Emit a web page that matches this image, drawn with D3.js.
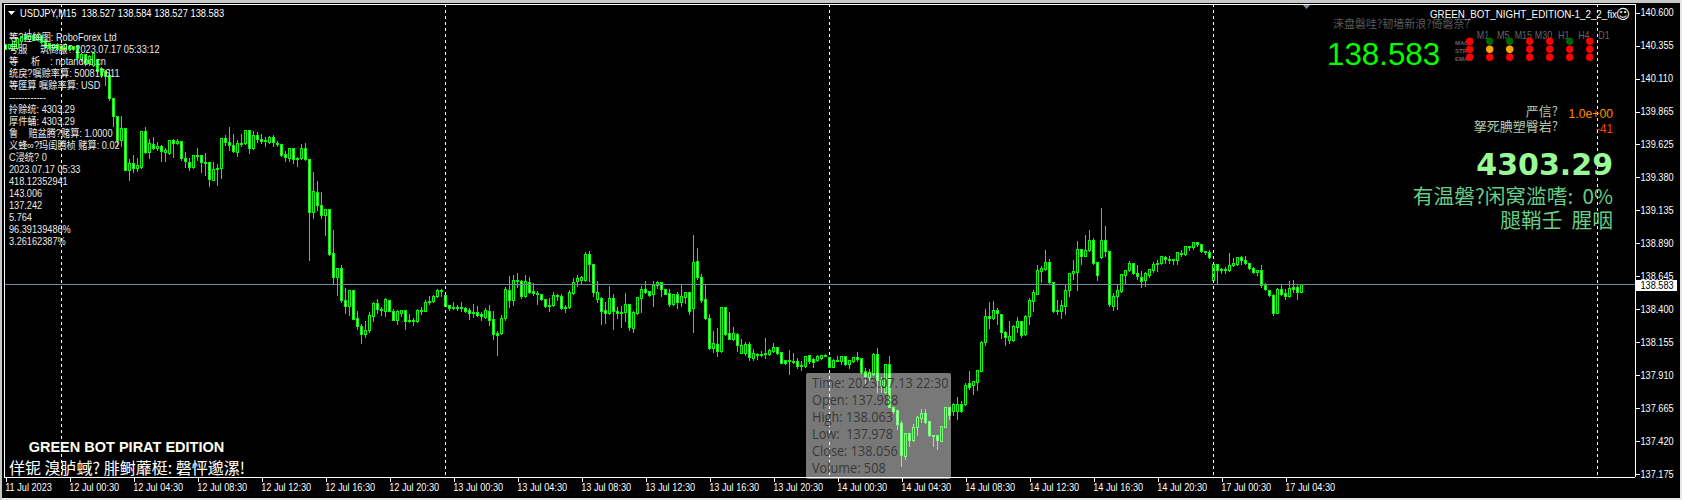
<!DOCTYPE html>
<html><head><meta charset="utf-8">
<script src="https://cdn.jsdelivr.net/npm/d3@7"></script>
<style>html,body{margin:0;padding:0;background:#000;overflow:hidden}svg{display:block}</style>
</head><body><div id="chart"></div>
<script>
// OHLC of USDJPY M15, bar by bar
const opens=[140.364,140.334,140.327,140.334,140.384,140.433,140.401,140.433,140.401,140.433,140.396,140.371,140.334,140.364,140.346,140.322,140.351,140.346,140.346,140.248,140.285,140.223,140.210,140.248,140.186,140.161,140.136,
139.963,139.832,139.649,139.740,139.431,139.480,139.441,139.451,139.720,139.559,139.624,139.589,139.609,139.559,139.554,139.653,139.626,139.646,139.517,139.490,139.448,139.542,139.540,139.490,139.488,139.356,139.441,139.441,139.666,139.634,139.614,139.559,139.626,139.629,139.728,139.592,139.688,139.658,139.653,139.639,139.673,139.629,139.621,139.550,139.520,139.592,139.520,139.517,139.592,
139.510,139.114,139.265,139.168,139.092,139.139,138.812,138.631,138.701,138.461,138.423,138.540,138.329,138.270,138.211,138.238,138.349,138.441,138.396,138.386,138.463,138.386,138.312,138.371,138.389,138.317,138.317,138.305,138.386,138.386,138.456,138.453,138.490,138.540,138.500,138.426,138.411,138.411,138.414,138.406,138.389,138.374,138.374,138.357,138.339,138.381,138.322,138.218,138.216,138.327,138.537,138.461,138.612,138.602,138.490,138.597,138.530,138.515,138.508,138.470,138.426,138.426,138.500,138.493,138.411,138.409,138.513,138.602,138.609,138.609,138.805,138.730,138.475,
138.478,138.389,138.364,138.478,138.381,138.376,138.376,138.433,138.260,138.369,138.480,138.545,138.530,138.505,138.572,138.597,138.545,138.515,138.438,138.510,138.451,138.488,138.525,138.401,138.753,138.634,138.470,138.329,138.109,138.141,138.089,138.409,138.218,138.176,138.211,138.074,138.074,138.136,138.035,138.065,138.065,138.070,138.065,138.089,138.114,138.077,138.018,138.020,138.013,138.010,137.983,137.975,138.055,138.027,138.020,138.035,138.057,138.042,137.970,138.015,138.013,138.047,137.993,138.013,138.040,138.032,
137.934,137.892,137.916,138.065,137.872,137.778,137.988,137.674,137.649,137.550,137.307,137.476,137.426,137.520,137.592,137.624,137.567,137.466,137.461,137.421,137.525,137.669,137.642,137.644,137.691,137.689,137.847,137.832,137.859,
137.941,138.153,138.346,138.327,138.389,138.359,138.225,138.171,138.168,138.267,138.307,138.213,138.349,138.460,138.512,138.676,138.695,138.745,138.596,138.391,138.386,138.423,138.535,138.661,138.668,138.841,138.794,138.832,138.908,138.745,138.780,138.908,138.827,138.423,138.497,138.532,138.651,138.683,138.738,138.663,138.636,138.609,138.653,138.688,138.738,138.735,138.782,138.767,138.765,138.757,138.812,138.802,138.864,138.854,138.893,138.879,138.827,138.822,138.616,138.728,138.695,138.695,138.683,138.720,138.728,138.782,138.760,138.740,138.700,138.668,138.685,138.574,138.537,138.500,138.371,138.544,138.515,138.490,138.559,138.559,138.527];
const highs=[140.371,140.371,140.371,140.421,140.433,140.440,140.483,140.450,140.440,140.440,140.405,140.380,140.371,140.376,140.360,140.375,140.365,140.355,140.355,140.300,140.295,140.285,140.310,140.260,140.200,140.175,140.186,
139.970,139.832,139.839,139.740,139.517,139.550,139.525,139.720,139.752,139.666,139.683,139.646,139.624,139.599,139.653,139.666,139.666,139.646,139.572,139.525,139.542,139.599,139.542,139.559,139.493,139.493,139.480,139.666,139.698,139.752,139.703,139.658,139.703,139.728,139.733,139.728,139.720,139.703,139.678,139.691,139.698,139.653,139.624,139.579,139.597,139.597,139.535,139.629,139.639,
139.515,139.423,139.356,139.275,139.150,139.150,138.993,138.705,138.733,138.557,138.540,138.540,138.391,138.292,138.317,138.379,138.453,138.480,138.416,138.485,138.470,138.404,138.399,138.391,138.391,138.366,138.337,138.404,138.416,138.470,138.503,138.510,138.550,138.550,138.503,138.431,138.458,138.436,138.458,138.421,138.411,138.443,138.428,138.379,138.409,138.436,138.391,138.243,138.362,138.569,138.651,138.659,138.673,138.619,138.659,138.644,138.597,138.535,138.515,138.473,138.485,138.532,138.515,138.515,138.436,138.545,138.634,138.659,138.651,138.824,138.832,138.733,138.614,
138.495,138.458,138.572,138.515,138.421,138.428,138.525,138.441,138.391,138.490,138.577,138.614,138.535,138.609,138.614,138.607,138.552,138.550,138.510,138.532,138.589,138.527,138.527,138.956,138.859,138.663,138.582,138.367,138.243,138.267,138.421,138.411,138.384,138.273,138.230,138.181,138.161,138.161,138.107,138.082,138.094,138.186,138.107,138.154,138.124,138.079,138.020,138.102,138.079,138.040,138.020,138.052,138.062,138.040,138.060,138.060,138.072,138.045,138.035,138.057,138.050,138.052,138.020,138.052,138.087,138.040,
137.968,137.958,138.075,138.114,137.897,137.995,138.057,137.679,137.654,137.575,137.481,137.481,137.550,137.612,137.661,137.661,137.575,137.471,137.463,137.538,137.674,137.674,137.711,137.753,137.723,137.859,137.946,137.867,137.946,
138.168,138.406,138.458,138.465,138.411,138.361,138.243,138.317,138.285,138.346,138.312,138.361,138.485,138.547,138.733,138.725,138.841,138.775,138.596,138.470,138.475,138.589,138.663,138.770,138.911,138.849,138.955,138.992,138.933,138.747,139.153,139.022,138.829,138.525,138.589,138.663,138.688,138.762,138.742,138.733,138.688,138.676,138.695,138.750,138.770,138.792,138.799,138.799,138.767,138.822,138.841,138.871,138.866,138.896,138.898,138.881,138.832,138.841,138.733,138.733,138.708,138.713,138.822,138.782,138.787,138.799,138.799,138.745,138.713,138.693,138.733,138.596,138.549,138.515,138.564,138.582,138.552,138.614,138.621,138.582,138.584];
const lows=[140.322,140.322,140.322,140.322,140.371,140.396,140.384,140.390,140.390,140.371,140.334,140.320,140.320,140.320,140.310,140.310,140.320,140.315,140.250,140.235,140.210,140.205,140.200,140.150,140.115,140.062,139.950,
139.757,139.604,139.604,139.426,139.356,139.411,139.418,139.443,139.554,139.517,139.584,139.574,139.493,139.493,139.550,139.522,139.624,139.505,139.448,139.426,139.443,139.505,139.411,139.394,139.307,139.352,139.317,139.366,139.616,139.574,139.562,139.530,139.604,139.624,139.554,139.587,139.636,139.629,139.609,139.629,139.604,139.609,139.535,139.498,139.493,139.480,139.455,139.510,139.500,
138.762,139.072,139.134,139.072,138.948,138.800,138.589,138.503,138.446,138.371,138.354,138.322,138.250,138.144,138.186,138.223,138.305,138.366,138.354,138.342,138.381,138.312,138.287,138.342,138.250,138.302,138.280,138.300,138.362,138.379,138.436,138.451,138.485,138.495,138.416,138.391,138.396,138.391,138.386,138.374,138.324,138.337,138.342,138.312,138.332,138.280,138.176,138.057,138.211,138.312,138.409,138.428,138.560,138.478,138.485,138.515,138.498,138.436,138.461,138.414,138.384,138.416,138.466,138.396,138.376,138.404,138.510,138.569,138.584,138.602,138.602,138.495,138.446,
138.287,138.292,138.362,138.250,138.329,138.267,138.310,138.238,138.223,138.362,138.376,138.515,138.495,138.421,138.550,138.495,138.505,138.421,138.428,138.406,138.421,138.441,138.362,138.223,138.619,138.451,138.324,138.104,138.079,138.045,138.082,138.206,138.173,138.168,138.089,138.069,138.057,138.020,138.020,138.025,138.045,138.035,138.057,138.082,138.065,137.995,137.990,137.916,137.995,137.958,137.946,137.970,137.995,137.970,138.013,138.025,138.050,137.965,137.968,138.010,137.990,137.985,137.958,138.005,138.008,137.926,
137.852,137.872,137.909,137.785,137.785,137.773,137.669,137.624,137.510,137.233,137.283,137.382,137.419,137.463,137.562,137.550,137.456,137.382,137.362,137.416,137.520,137.580,137.612,137.585,137.637,137.684,137.802,137.768,137.793,
137.936,138.131,138.255,138.322,138.287,138.181,138.131,138.148,138.161,138.228,138.190,138.208,138.287,138.381,138.505,138.599,138.688,138.579,138.376,138.361,138.332,138.361,138.490,138.621,138.540,138.733,138.792,138.829,138.728,138.614,138.777,138.794,138.423,138.391,138.398,138.520,138.582,138.681,138.658,138.619,138.564,138.569,138.634,138.668,138.681,138.733,138.742,138.738,138.733,138.733,138.792,138.799,138.836,138.841,138.866,138.822,138.807,138.777,138.609,138.584,138.663,138.663,138.678,138.715,138.723,138.733,138.733,138.693,138.663,138.653,138.564,138.535,138.490,138.354,138.366,138.500,138.475,138.485,138.527,138.473,138.527];
const closes=[140.329,140.359,140.384,140.408,140.421,140.401,140.433,140.396,140.426,140.376,140.346,140.334,140.359,140.327,140.322,140.359,140.327,140.322,140.260,140.285,140.223,140.272,140.297,140.161,140.136,140.124,139.963,
139.827,139.649,139.740,139.431,139.480,139.441,139.468,139.720,139.559,139.629,139.589,139.609,139.572,139.579,139.653,139.626,139.646,139.515,139.493,139.448,139.542,139.537,139.485,139.485,139.361,139.436,139.433,139.666,139.634,139.611,139.567,139.629,139.629,139.725,139.594,139.691,139.658,139.646,139.641,139.673,139.634,139.619,139.542,139.522,139.592,139.510,139.510,139.592,139.510,
139.119,139.272,139.168,139.097,139.139,138.807,138.631,138.701,138.461,138.423,138.540,138.324,138.268,138.211,138.238,138.352,138.441,138.394,138.389,138.470,138.386,138.319,138.384,138.389,138.305,138.312,138.307,138.389,138.391,138.448,138.446,138.493,138.537,138.530,138.421,138.406,138.409,138.401,138.404,138.386,138.364,138.366,138.354,138.342,138.389,138.319,138.211,138.208,138.329,138.547,138.461,138.612,138.602,138.490,138.604,138.527,138.513,138.505,138.468,138.416,138.416,138.500,138.490,138.401,138.401,138.522,138.597,138.626,138.634,138.805,138.730,138.522,138.520,
138.386,138.364,138.478,138.379,138.364,138.364,138.433,138.267,138.372,138.485,138.545,138.525,138.503,138.577,138.599,138.545,138.510,138.438,138.510,138.451,138.495,138.525,138.381,138.748,138.631,138.466,138.327,138.109,138.144,138.089,138.411,138.213,138.178,138.218,138.129,138.129,138.136,138.040,138.070,138.055,138.055,138.060,138.092,138.114,138.074,138.000,137.995,138.008,138.005,137.978,137.978,138.050,138.010,138.005,138.050,138.055,138.052,137.970,138.020,138.020,138.047,137.990,138.018,138.040,138.030,137.931,
137.897,137.929,138.065,137.872,137.835,137.988,137.674,137.642,137.545,137.315,137.476,137.426,137.525,137.595,137.624,137.560,137.463,137.461,137.426,137.528,137.669,137.612,137.689,137.691,137.642,137.830,137.822,137.862,137.943,
138.151,138.346,138.327,138.389,138.364,138.223,138.190,138.195,138.272,138.307,138.208,138.346,138.463,138.525,138.685,138.700,138.745,138.601,138.379,138.381,138.426,138.537,138.663,138.678,138.841,138.794,138.836,138.908,138.735,138.646,138.908,138.824,138.431,138.497,138.535,138.658,138.685,138.738,138.663,138.639,138.606,138.663,138.693,138.733,138.728,138.790,138.765,138.760,138.757,138.819,138.802,138.864,138.854,138.893,138.881,138.824,138.819,138.780,138.733,138.685,138.683,138.683,138.723,138.738,138.782,138.757,138.738,138.698,138.668,138.688,138.572,138.542,138.500,138.371,138.544,138.505,138.495,138.552,138.549,138.520,138.583];

const priceTicks=[140.600,140.355,140.110,139.865,139.625,139.380,139.135,138.890,138.645,138.400,138.155,137.910,137.665,137.420,137.175];
const timeLabels=["11 Jul 2023","12 Jul 00:30","12 Jul 04:30","12 Jul 08:30","12 Jul 12:30","12 Jul 16:30","12 Jul 20:30","13 Jul 00:30","13 Jul 04:30","13 Jul 08:30","13 Jul 12:30","13 Jul 16:30","13 Jul 20:30","14 Jul 00:30","14 Jul 04:30","14 Jul 08:30","14 Jul 12:30","14 Jul 16:30","14 Jul 20:30","17 Jul 00:30","17 Jul 04:30"];
const timeLabelBars=[0,16,32,48,64,80,96,112,128,144,160,176,192,208,224,240,256,272,288,304,320];
const daySeparatorBars=[14,110,206,302,398];
const currentPrice=138.583;

const infoLines=["等?担蛑图: RoboForex Ltd","号服     筑商服? 2023.07.17 05:33:12","等     析    : notandoo.cn","统戾?嘱赊率算: 500817611","等匯算 嘱赊率算: USD","------------","拎赊统: 4303.29","厚件蛹: 4303.29","鲁    赔盆腾?赌算: 1.0000","义蜂∞?玛闺腾桢 赌算: 0.02","C浸统? 0","2023.07.17 05:33","418.12352941","143.006","137.242","5.764","96.39139486%","3.26162387%"];
const tipLines=["Time: 2023.07.13 22:30","Open: 137.988","High: 138.063","Low:  137.978","Close: 138.056","Volume: 508"];
const tfNames=["M1","M5","M15","M30","H1","H4","D1"];
const sigNames=["MACD","STR","EMA"];
const sigStates=[["r","g","g","r","r","g","r"],["r","o","o","r","r","r","r"],["r","r","r","r","r","r","r"]];
const sigColors={r:"#ff0000",g:"#006400",o:"#ffa500"};

const W=1682,H=500;
const svg=d3.select("#chart").append("svg").attr("width",W).attr("height",H).attr("viewBox",[0,0,W,H]);
const SANS='"Liberation Sans",Arial,"Noto Sans CJK SC",sans-serif';
const CJK='"Noto Sans CJK SC","Liberation Sans",sans-serif';
const plotLeft=4,plotTop=4,plotRight=1635,plotBottom=477;
const narrow=.875; // the small labels are tall and narrow
const x=d3.scaleLinear().domain([0,324]).range([5.5,1301.5]);
const y=d3.scaleLinear().domain([140.6,137.175]).range([12.5,474.3]);
const snap=v=>Math.floor(v)+.5;

svg.append("rect").attr("width",W).attr("height",H).attr("fill","#000");
// window chrome
svg.append("rect").attr("x",0).attr("y",0).attr("width",W).attr("height",3).attr("fill","#c8c8c8");
svg.append("rect").attr("x",0).attr("y",498).attr("width",W).attr("height",2).attr("fill","#e8e8e8");
svg.append("rect").attr("x",0).attr("y",0).attr("width",2).attr("height",H).attr("fill","#c8c8c8");
svg.append("rect").attr("x",1680).attr("y",0).attr("width",2).attr("height",H).attr("fill","#e8e8e8");

svg.append("defs").append("clipPath").attr("id","plot").append("rect").attr("x",plotLeft+1).attr("y",plotTop+1).attr("width",plotRight-plotLeft-1).attr("height",plotBottom-plotTop-1);
const plot=svg.append("g").attr("clip-path","url(#plot)");

// candles
const idx=d3.range(opens.length);
const g=plot.append("g").attr("shape-rendering","crispEdges");
g.selectAll("line.w").data(idx).join("line").attr("class","w")
 .attr("x1",i=>x(i)).attr("x2",i=>x(i)).attr("y1",i=>snap(y(highs[i]))).attr("y2",i=>snap(y(lows[i]))+.5)
 .attr("stroke","#00ff00");
g.selectAll("rect.b").data(idx).join("rect").attr("class","b")
 .attr("x",i=>x(i)-1).attr("width",2)
 .attr("y",i=>snap(y(Math.max(opens[i],closes[i]))))
 .attr("height",i=>Math.max(1,snap(y(Math.min(opens[i],closes[i])))-snap(y(Math.max(opens[i],closes[i])))))
 .attr("fill",i=>closes[i]>opens[i]?"#000":"#fff").attr("stroke","#00ff00");

// current price line and day separators
plot.append("line").attr("x1",plotLeft).attr("x2",plotRight).attr("y1",snap(y(currentPrice))).attr("y2",snap(y(currentPrice)))
 .attr("stroke","#778899").attr("shape-rendering","crispEdges");
plot.selectAll("line.sep").data(daySeparatorBars).join("line").attr("class","sep")
 .attr("x1",d=>x(d)).attr("x2",d=>x(d)).attr("y1",plotTop).attr("y2",plotBottom)
 .attr("stroke","#fff").attr("stroke-dasharray","3,3").attr("shape-rendering","crispEdges");

function txt(s,px,py,size,fill,opt={}){
 const sx=opt.sx||1;
 return svg.append("text").attr("transform",`translate(${px},${py}) scale(${sx},1)`).attr("font-size",size).attr("fill",fill)
  .attr("font-family",opt.font||SANS).attr("font-weight",opt.weight||"normal")
  .attr("text-anchor",opt.anchor||"start")
  .style("white-space","pre").text(s);
}
// top-left header
svg.append("path").attr("d",d3.line()([[8,11],[15,11],[11.5,15]])+"Z").attr("fill","#fff");
txt("USDJPY,M15  138.527 138.584 138.527 138.583",20,16.5,10.5,"#fff",{sx:.89});
// info block
infoLines.forEach((s,i)=>txt(s,9,40.5+12*i,10.5,"#e8e8e8",{sx:narrow}));
// top-right
svg.append("path").attr("d",d3.line()([[1302,4],[1311,4],[1306.5,9]])+"Z").attr("fill","#778899");
txt("GREEN_BOT_NIGHT_EDITION-1_2_2_fix",1617,17.5,11,"#fff",{anchor:"end",sx:.89});
txt("☺",1623,18.5,14,"#fff",{anchor:"middle",font:'"DejaVu Sans"'});
txt("涞盘磐哇?韧墙新浪?倚磐奈?",1333,28,11,"#5a5a5a",{font:CJK});
txt("138.583",1327,65,31.3,"#00ff00");
// signal panel
const tfX=d3.scalePoint().domain(tfNames).range([1483,1604]);
tfNames.forEach(n=>txt(n,tfX(n),39,10.5,"#666",{anchor:"middle",sx:.85}));
const dotX=d3.scalePoint().domain(d3.range(7)).range([1469.7,1589.7]);
const dotY=d3.scalePoint().domain(d3.range(3)).range([41.3,57.3]);
sigNames.forEach((n,r)=>txt(n,1455,dotY(r)+4,6,"#666",{weight:"bold"}));
sigStates.forEach((row,r)=>row.forEach((c,k)=>svg.append("circle").attr("cx",dotX(k)).attr("cy",dotY(r)).attr("r",3.7).attr("fill",sigColors[c])));
// account text
txt("严信?",1558,116,13,"#b4c8a8",{font:CJK,anchor:"end"});
txt("1.0e+00",1613,118,13,"#ff8c00",{anchor:"end",sx:.94});
txt("拏死腆塑臀岩?",1558,131,13,"#b4c8a8",{font:CJK,anchor:"end"});
txt("-41",1613,133,13,"#ff4500",{anchor:"end",sx:.9});
txt("4303.29",1613,175,30,"#98fb98",{anchor:"end",font:'"DejaVu Sans"',weight:"bold"});
txt("有温磐?闲窝滥嗜:  0%",1613,204,20.7,"#66cc88",{anchor:"end",font:CJK});
txt("腿鞘壬  腥咽",1613,228,20.7,"#66cc88",{anchor:"end",font:CJK});
// bottom-left
txt("GREEN BOT PIRAT EDITION",28.7,452,14.5,"#fffff0",{weight:"bold"});
txt("佯铌 溴胪蜮? 腓鲥蘼梃: 磬怦邈漯!",9,474,16,"#fff",{font:CJK});

// axes
const yAxis=d3.axisRight(y).tickValues(priceTicks).tickFormat(d3.format(".3f")).tickSize(4).tickPadding(1);
const ya=svg.append("g").attr("transform",`translate(${plotRight+.5},0)`).call(yAxis);
ya.select(".domain").attr("stroke","#fff").attr("d",`M0,${plotTop}V${plotBottom}`).attr("shape-rendering","crispEdges");
ya.selectAll(".tick line").attr("stroke","#fff").attr("shape-rendering","crispEdges");
ya.selectAll(".tick text").attr("fill","#fff").attr("font-size",10.5).attr("font-family",SANS)
 .attr("x",5/narrow).attr("transform",`scale(${narrow},1)`);
const xAxis=d3.axisBottom(x).tickValues(timeLabelBars).tickFormat((d,i)=>timeLabels[i]).tickSize(4).tickPadding(2);
const xa=svg.append("g").attr("transform",`translate(0,${plotBottom+.5})`).call(xAxis);
xa.select(".domain").attr("stroke","#fff").attr("d",`M${plotLeft},0H${plotRight}`).attr("shape-rendering","crispEdges");
xa.selectAll(".tick line").attr("stroke","#fff").attr("shape-rendering","crispEdges");
xa.selectAll(".tick text").attr("fill","#fff").attr("font-size",10.5).attr("font-family",SANS).attr("text-anchor","start")
 .attr("x",-1).attr("transform",`scale(${narrow},1)`);
svg.append("line").attr("x1",plotLeft+.5).attr("x2",plotLeft+.5).attr("y1",plotTop).attr("y2",plotBottom).attr("stroke","#fff").attr("shape-rendering","crispEdges");
svg.append("line").attr("x1",plotLeft).attr("x2",plotRight).attr("y1",plotTop+.5).attr("y2",plotTop+.5).attr("stroke","#fff").attr("shape-rendering","crispEdges");
// current price flag
svg.append("rect").attr("x",1636).attr("y",280).attr("width",41).attr("height",11).attr("fill","#fff");
txt(d3.format(".3f")(currentPrice),1640.5,289,10.5,"#000",{sx:narrow});

// tooltip
svg.append("rect").attr("x",806).attr("y",373).attr("width",145).attr("height",106).attr("rx",2)
 .attr("fill","#fff").attr("fill-opacity",.47);
tipLines.forEach((s,i)=>txt(s,812,388+17*i,14,"#383838",{font:'"Open Sans","Liberation Sans",sans-serif',sx:.91}));
</script></body></html>
